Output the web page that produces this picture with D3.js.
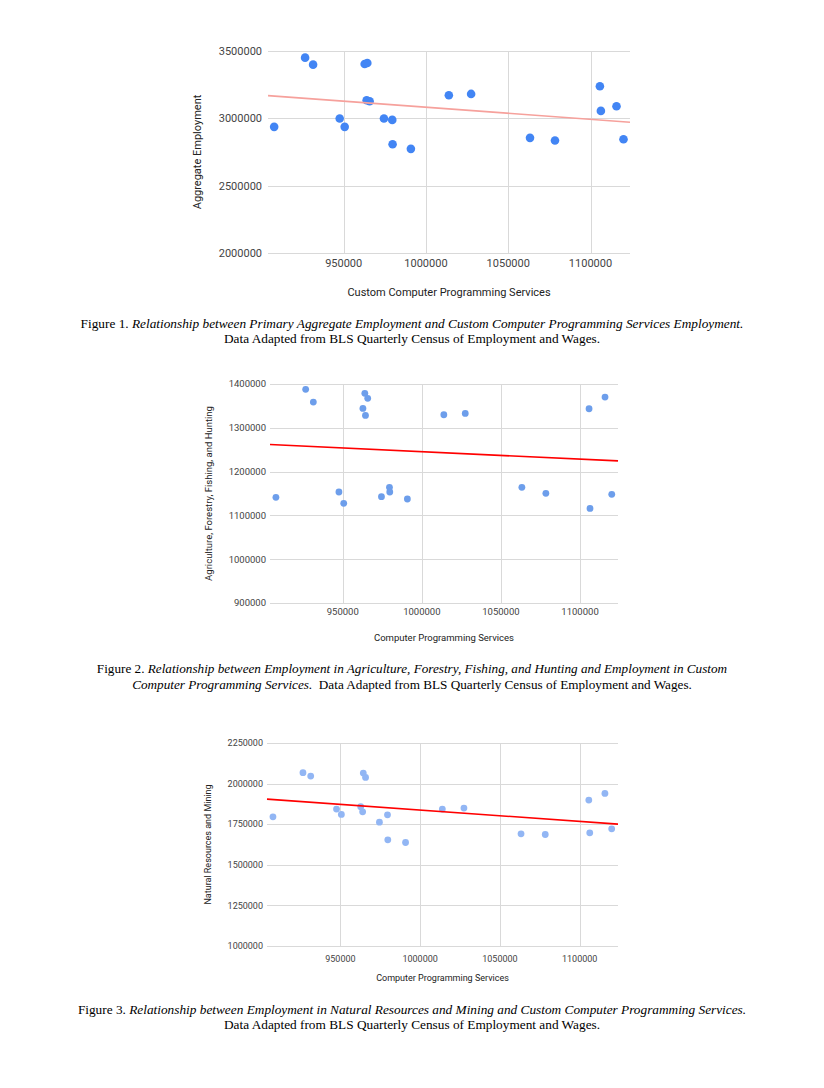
<!DOCTYPE html>
<html><head><meta charset="utf-8">
<script src="https://cdn.jsdelivr.net/npm/d3@7"></script>
<style>
body{margin:0;background:#fff;}
svg{display:block;}
</style></head>
<body>
<svg id="c" width="824" height="1088"></svg>
<script>
// Shared x values: Custom Computer Programming Services employment
const programming = [907740, 926545, 931400, 947574, 950607, 962740, 963950, 964356, 965770, 974466, 979520, 979720, 990840, 1013900, 1027440, 1063230, 1078400, 1105700, 1106300, 1115800, 1120050];
// Figure 1: Aggregate employment
const aggregate = [2936600, 3450580, 3398700, 2998400, 2936600, 3403600, 3134300, 3411000, 3126900, 2998400, 2988500, 2808100, 2773500, 3171400, 3181300, 2855100, 2835300, 3238100, 3055200, 3089800, 2845200];
// Figure 2: Agriculture, Forestry, Fishing, and Hunting
const agriculture = [1141200, 1387800, 1358800, 1153400, 1127500, 1344300, 1378600, 1328200, 1367200, 1142700, 1164100, 1153400, 1137400, 1329800, 1332800, 1164100, 1150400, 1343500, 1116000, 1370200, 1148100];
// Figure 3: Natural Resources and Mining
const mining = [1795600, 2067000, 2046500, 1842900, 1810000, 1857300, 1826500, 2064960, 2038200, 1762700, 1808000, 1653800, 1637300, 1842900, 1849100, 1690800, 1686700, 1898400, 1696900, 1939500, 1721600];

const xTicks = [950000, 1000000, 1050000, 1100000];
const yTicks1 = [2000000, 2500000, 3000000, 3500000];
const yTicks2 = [900000, 1000000, 1100000, 1200000, 1300000, 1400000];
const yTicks3 = [1000000, 1250000, 1500000, 1750000, 2000000, 2250000];
// Trendline end values (at left / right edge of plot)
const trend1 = [3168900, 2971200];
const trend2 = [1261800, 1224400];
const trend3 = [1904600, 1750400];

const xDomain = [904000, 1124000];

const svg = d3.select("#c");

function chart(o){
  const g = svg.append("g");
  const x = d3.scaleLinear().domain(xDomain).range([o.left, o.right]);
  const y = d3.scaleLinear().domain(o.yDomain).range([o.bottom, o.top]);
  // gridlines
  g.selectAll(".hg").data(o.yTicks).join("line")
    .attr("x1", o.left).attr("x2", o.right)
    .attr("y1", d=>Math.round(y(d))+0.5).attr("y2", d=>Math.round(y(d))+0.5)
    .attr("stroke", "#d9d9d9").attr("stroke-width", 1);
  g.selectAll(".vg").data(xTicks).join("line")
    .attr("x1", d=>Math.round(x(d))+0.5).attr("x2", d=>Math.round(x(d))+0.5)
    .attr("y1", o.top).attr("y2", o.bottom)
    .attr("stroke", "#d9d9d9").attr("stroke-width", 1);
  // y tick labels
  g.selectAll(".yl").data(o.yTicks).join("text")
    .attr("x", o.yLabelX).attr("y", d=>y(d)).attr("dy", "0.35em")
    .attr("text-anchor", "end")
    .attr("font-family", "Roboto, Arial, sans-serif").attr("font-size", o.tickSize)
    .attr("fill", "#444").text(d=>d);
  // x tick labels
  g.selectAll(".xl").data(xTicks).join("text")
    .attr("x", d=>x(d)).attr("y", o.xLabelY).attr("dy", "0.35em")
    .attr("text-anchor", "middle")
    .attr("font-family", "Roboto, Arial, sans-serif").attr("font-size", o.tickSize)
    .attr("fill", "#444").text(d=>d);
  // axis titles
  g.append("text").attr("x", (o.left+o.right)/2).attr("y", o.xTitleY).attr("dy", "0.35em")
    .attr("text-anchor", "middle").attr("font-family", "Roboto, Arial, sans-serif")
    .attr("font-size", o.titleSize).attr("fill", "#222").text(o.xTitle);
  g.append("text").attr("transform", `translate(${o.yTitleX},${(o.top+o.bottom)/2}) rotate(-90)`)
    .attr("dy", "0.35em")
    .attr("text-anchor", "middle").attr("font-family", "Roboto, Arial, sans-serif")
    .attr("font-size", o.titleSize).attr("fill", "#222").text(o.yTitle);
  // points
  g.selectAll(".pt").data(o.ys).join("circle")
    .attr("cx", (d,i)=>x(programming[i])).attr("cy", d=>y(d))
    .attr("r", o.r).attr("fill", o.dotColor);
  // trendline
  const line = d3.line().x(d=>x(d[0])).y(d=>y(d[1]));
  g.append("path").datum([[xDomain[0], o.trend[0]], [xDomain[1], o.trend[1]]])
    .attr("d", line).attr("fill", "none").attr("stroke", o.trendColor).attr("stroke-width", 1.6);
  // caption
  const cap = g.append("g").attr("font-family", "'Liberation Serif', 'Times New Roman', serif")
    .attr("font-size", o.capSize).attr("fill", "#000");
  o.caption.forEach((ln, i)=>{
    const t = cap.append("text").attr("x", 412).attr("y", o.capY + i*o.capGap).attr("text-anchor", "middle");
    ln.forEach(seg=>{ t.append("tspan").attr("font-style", seg[1] ? "italic" : "normal").text(seg[0]); });
  });
}

chart({
  left: 268, right: 630, top: 51, bottom: 253,
  yDomain: [2000000, 3500000], yTicks: yTicks1, ys: aggregate, trend: trend1,
  yLabelX: 262, xLabelY: 263, tickSize: 11, titleSize: 11,
  xTitle: "Custom Computer Programming Services", xTitleY: 292,
  yTitle: "Aggregate Employment", yTitleX: 197,
  r: 4.3, dotColor: "#4285f4", trendColor: "#f6a19c",
  capY: 328, capGap: 15, capSize: 13.3,
  caption: [[["Figure 1. ", false], ["Relationship between Primary Aggregate Employment and Custom Computer Programming Services Employment.", true]],
            [["Data Adapted from BLS Quarterly Census of Employment and Wages.", false]]]
});
chart({
  left: 270, right: 618, top: 384, bottom: 603,
  yDomain: [900000, 1400000], yTicks: yTicks2, ys: agriculture, trend: trend2,
  yLabelX: 266, xLabelY: 612, tickSize: 9.5, titleSize: 9.5,
  xTitle: "Computer Programming Services", xTitleY: 638,
  yTitle: "Agriculture, Forestry, Fishing, and Hunting", yTitleX: 209,
  r: 3.4, dotColor: "#6d9eeb", trendColor: "#ff0000",
  capY: 673, capGap: 16, capSize: 13.2,
  caption: [[["Figure 2. ", false], ["Relationship between Employment in Agriculture, Forestry, Fishing, and Hunting and Employment in Custom", true]],
            [["Computer Programming Services.", true], ["\u00a0 Data Adapted from BLS Quarterly Census of Employment and Wages.", false]]]
});
chart({
  left: 267, right: 618, top: 743, bottom: 946,
  yDomain: [1000000, 2250000], yTicks: yTicks3, ys: mining, trend: trend3,
  yLabelX: 263, xLabelY: 959, tickSize: 9, titleSize: 9,
  xTitle: "Computer Programming Services", xTitleY: 978,
  yTitle: "Natural Resources and Mining", yTitleX: 208,
  r: 3.4, dotColor: "#92b6f4", trendColor: "#ff0000",
  capY: 1014, capGap: 15, capSize: 13.3,
  caption: [[["Figure 3. ", false], ["Relationship between Employment in Natural Resources and Mining and Custom Computer Programming Services.", true]],
            [["Data Adapted from BLS Quarterly Census of Employment and Wages.", false]]]
});
</script>
</body></html>
